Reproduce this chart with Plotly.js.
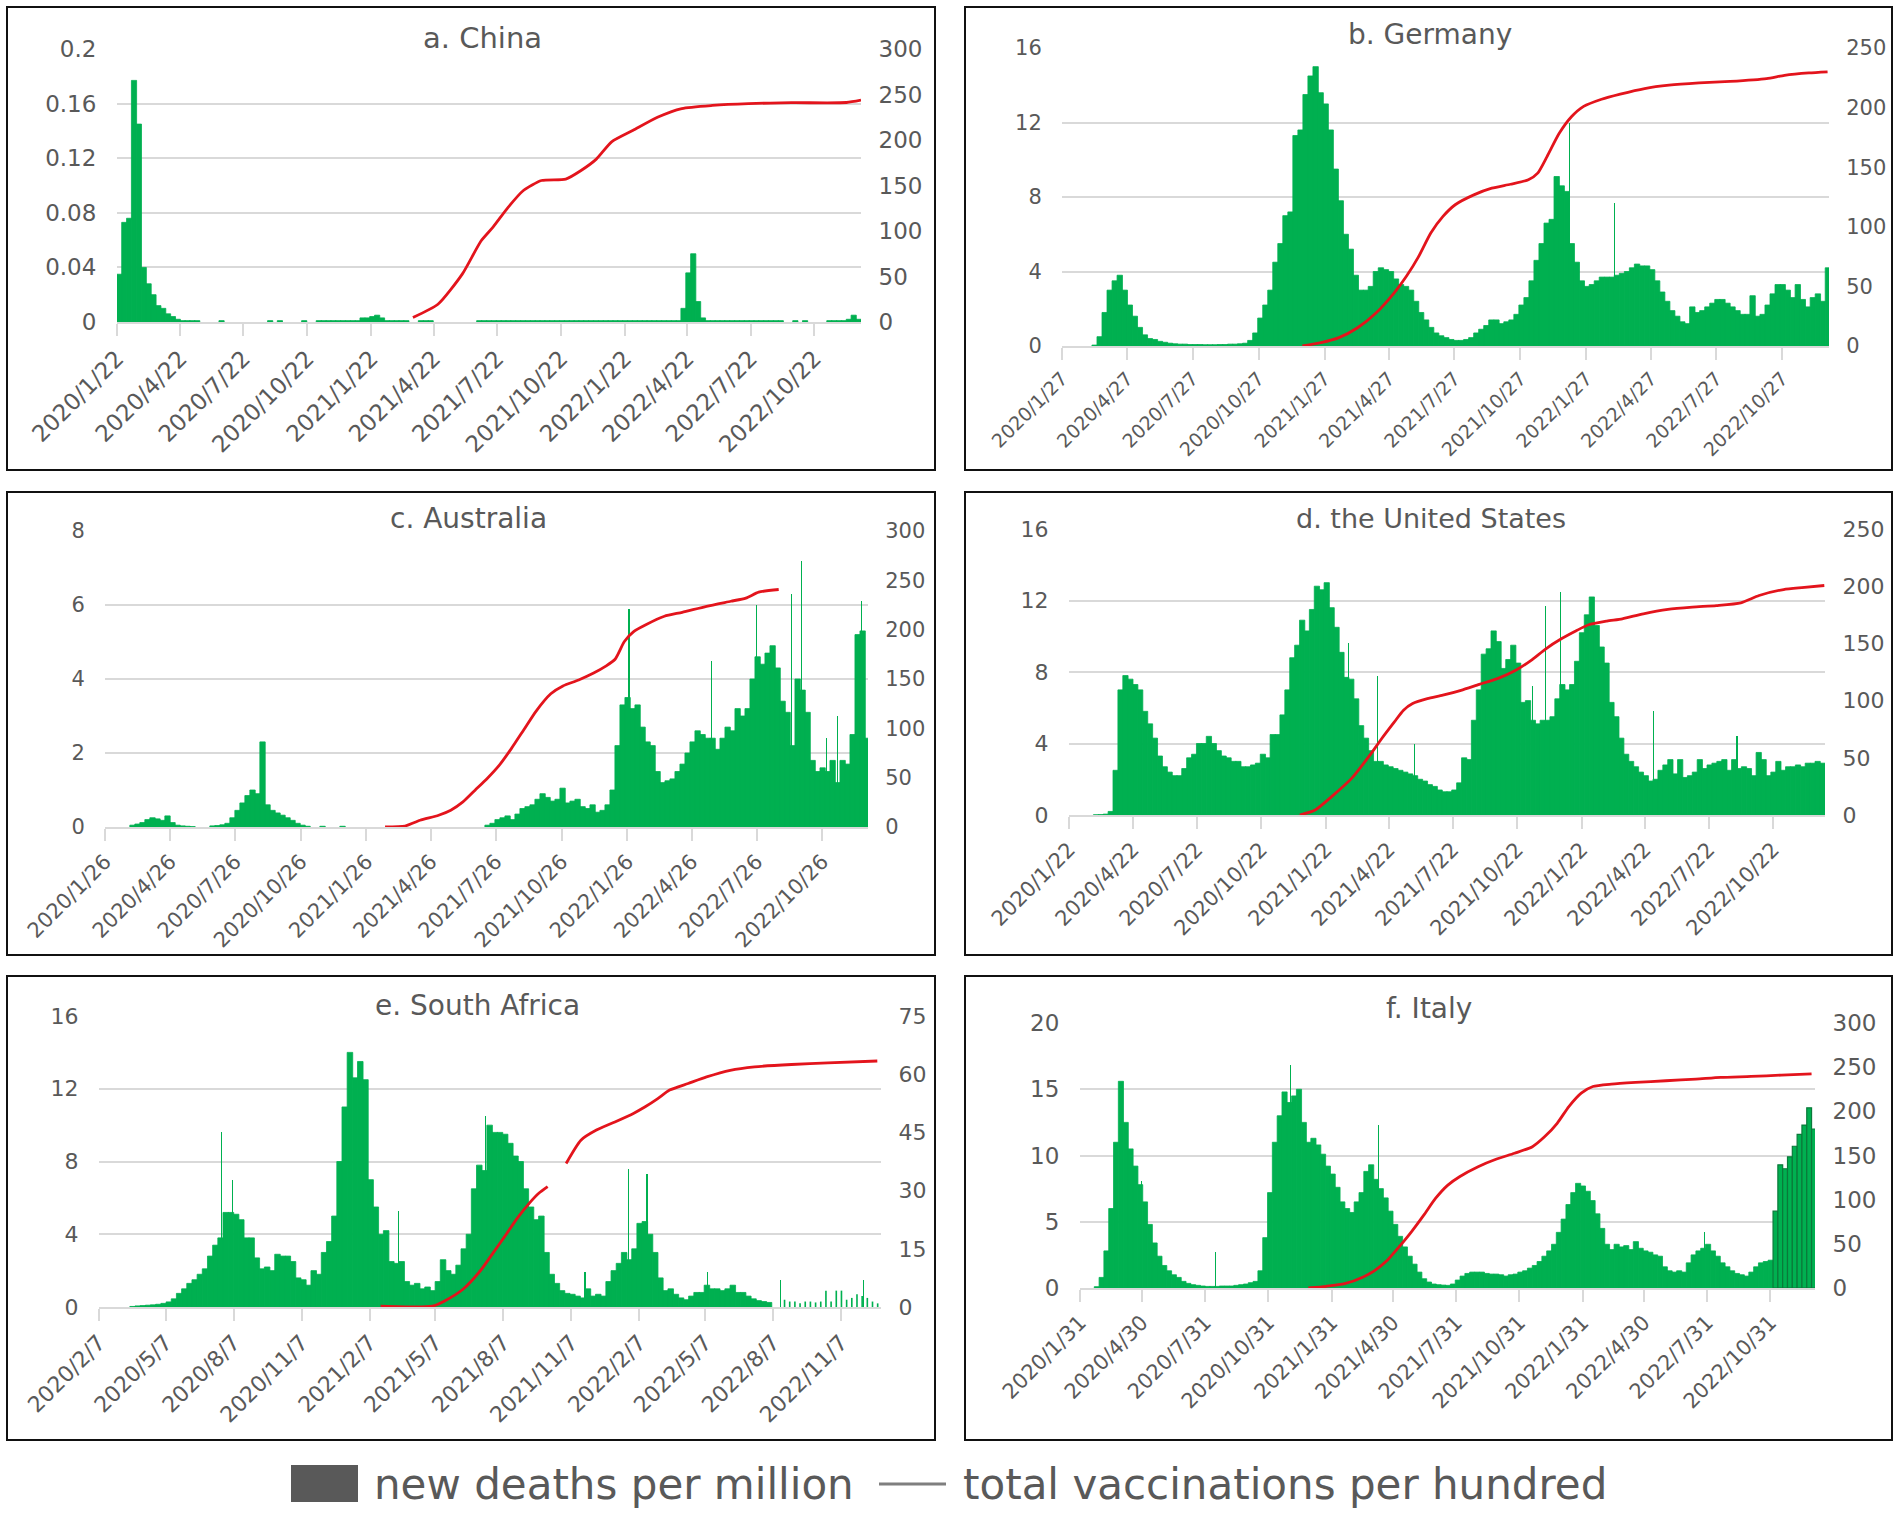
<!DOCTYPE html>
<html>
<head>
<meta charset="utf-8">
<script src="https://cdn.plot.ly/plotly-3.0.1.min.js"></script>
<style>
html,body{margin:0;padding:0;background:#fff;}
#chart{width:1902px;height:1519px;}
</style>
</head>
<body>
<div id="chart"></div>
<script>
// ---------------- DATA ----------------
// weekly new deaths per million (one value per 7-day week, starting at the axis start date)
const chinaStart = '2020-01-22';
const chinaDeaths = [0.035,0.073,0.076,0.177,0.145,0.04,0.028,0.02,0.012,0.01,0.006,0.004,0.002,
 0.001,0.001,0.001,0.001,0,0,0,0,
 0.001,0,0,0,0,0,0,0,0,0,
 0.001,0,0.001,0,0,0,0,0.001,0,0,
 0.001,0.001,0.001,0.001,0.001,0.001,0.001,0.001,0.001,
 0.003,0.003,0.004,0.005,0.003,
 0.001,0.001,0.001,0.001,0.001,
 0,0,0.001,0.001,0.001,0,0,0,0,0,0,0,0,0,
 0.001,0.001,0.001,0.001,0.001,0.001,0.001,0.001,0.001,0.001,0.001,0.001,0.001,0.001,
 0.001,0.001,0.001,0.001,0.001,0.001,0.001,0.001,0.001,0.001,0.001,0.001,0.001,0.001,
 0.001,0.001,0.001,0.001,0.001,0.001,0.001,0.001,0.001,0.001,0.001,0.001,0.001,0.001,
 0.01,0.036,0.05,0.015,0.003,
 0.001,0.001,0.001,0.001,0.001,0.001,0.001,0.001,0.001,0.001,0.001,0.001,0.001,0.001,0.001,0.001,
 0,0,0.001,0,0.001,0,0,0,0,0.001,0.001,0.001,0.001,
 0.002,0.005,0.002];
const chinaSpikeDates = [];
const chinaSpikeVals = [];
const chinaVaxDates = ['2021-03-23','2021-04-28','2021-06-02','2021-06-29','2021-07-16','2021-08-07','2021-08-29','2021-09-24','2021-10-29','2021-11-20','2021-12-12','2022-01-03','2022-02-03','2022-03-10','2022-04-14','2022-05-28','2022-07-19','2022-09-19','2022-12-07','2022-12-28'];
const chinaVaxVals = [5,19.5,52.6,89,104,126,144.5,155.5,157,166.5,179,198,210.7,225,234.6,238,240,241,241.2,243.8];
const chinaTicks = ['2020/1/22','2020/4/22','2020/7/22','2020/10/22','2021/1/22','2021/4/22','2021/7/22','2021/10/22','2022/1/22','2022/4/22','2022/7/22','2022/10/22'];

const germanyStart = '2020-01-27';
const germanyDeaths = [0,0,0,0,0,0,
 0.05,0.5,1.8,3.0,3.5,3.8,3.0,2.2,1.6,1.0,0.6,0.4,0.35,0.25,0.2,0.15,
 0.12,0.1,0.1,0.08,0.08,0.08,0.07,0.07,0.07,0.08,0.08,0.1,0.1,0.12,
 0.15,0.3,
 0.7,1.5,2.2,3.0,4.5,5.5,7.0,7.2,11.3,11.6,
 13.5,14.5,15.0,13.6,13.0,11.6,9.5,7.8,6.0,5.2,
 3.8,3.0,3.0,3.2,4.0,4.2,4.1,4.0,3.6,3.3,
 3.2,3.0,2.4,1.8,1.4,1.0,0.7,0.55,0.45,0.35,
 0.3,0.3,0.35,0.45,0.7,0.9,1.1,1.4,1.4,1.2,
 1.3,1.4,1.7,2.2,2.6,3.5,4.6,5.5,6.6,6.8,
 9.1,8.6,8.3,5.5,4.5,3.5,3.2,3.3,3.5,3.7,
 3.7,3.7,3.8,3.9,4.0,4.2,4.4,4.3,4.3,4.1,
 3.5,2.9,2.4,1.9,1.6,1.3,1.2,2.1,1.8,1.9,
 2.1,2.3,2.5,2.5,2.3,2.1,1.9,1.7,1.7,2.7,
 1.6,1.7,2.2,2.8,3.3,3.3,3.0,2.6,3.3,2.5,
 2.1,2.6,2.8,2.4,4.2];
const germanySpikeDates = ['2022-01-03','2022-03-07'];
const germanySpikeVals = [12.0,7.7];
const germanyVaxDates = ['2020-12-27','2021-01-22','2021-02-16','2021-03-14','2021-04-09','2021-05-04','2021-05-21','2021-06-07','2021-06-24','2021-07-11','2021-07-28','2021-08-23','2021-09-17','2021-10-13','2021-11-07','2021-11-20','2021-12-03','2021-12-20','2022-01-06','2022-01-23','2022-02-17','2022-03-15','2022-04-18','2022-05-22','2022-07-03','2022-08-15','2022-10-05','2022-10-30','2022-12-03','2022-12-29'];
const germanyVaxVals = [0,2.8,7,15.3,27.9,44.6,58.5,75,94.8,108.7,118.5,126.8,132.4,135.7,139.4,145,158.9,178.4,192.3,201,207,211.3,216,218.8,220.7,222,224.4,227.1,229.1,230];
const germanyTicks = ['2020/1/27','2020/4/27','2020/7/27','2020/10/27','2021/1/27','2021/4/27','2021/7/27','2021/10/27','2022/1/27','2022/4/27','2022/7/27','2022/10/27'];

const australiaStart = '2020-01-26';
const australiaDeaths = [0,0,0,0,0,
 0.05,0.08,0.12,0.2,0.25,0.22,0.18,0.3,0.12,0.05,0.03,0.02,0.01,
 0,0,0,
 0.03,0.04,0.06,0.1,0.25,0.45,0.65,0.85,1.0,0.9,2.3,0.6,0.45,0.38,0.32,0.25,0.18,0.1,0.05,
 0.02,0,0,0.02,0,0,0,0.02,0,0, 0,0,0,0,0,0,0,0,0,0, 0,0,0,0,0,0,0,0,0,0, 0,0,0,0,0,0,
 0.05,0.1,0.2,0.25,0.3,0.2,0.35,0.5,0.55,0.6,
 0.75,0.9,0.8,0.7,0.75,1.05,0.65,0.7,0.75,0.55,
 0.5,0.6,0.4,0.45,0.6,1.0,2.2,3.3,3.5,3.2,
 3.3,2.7,2.3,2.2,1.5,1.2,1.25,1.3,1.5,1.7,
 2.0,2.3,2.6,2.5,2.4,2.4,2.1,2.4,2.7,2.6,
 3.2,3.0,3.2,4.0,4.6,4.4,4.7,4.9,4.3,3.4,
 3.1,2.2,4.0,3.7,3.1,1.8,1.5,1.6,1.5,1.8,
 1.2,1.8,1.7,2.5,5.2,5.3,2.4];
const australiaSpikeDates = ['2022-01-28','2022-05-24','2022-07-26','2022-09-13','2022-09-26','2022-11-01','2022-11-16','2022-12-19'];
const australiaSpikeVals = [5.9,4.5,6.0,6.3,7.2,2.4,3.0,6.1];
const australiaVaxDates = ['2021-02-21','2021-03-21','2021-04-11','2021-05-07','2021-05-24','2021-06-10','2021-06-27','2021-07-14','2021-07-31','2021-08-17','2021-09-03','2021-09-20','2021-10-11','2021-10-28','2021-11-19','2021-12-10','2021-12-27','2022-01-09','2022-01-22','2022-02-04','2022-02-21','2022-03-19','2022-04-13','2022-05-17','2022-06-20','2022-07-11','2022-07-29','2022-08-26'];
const australiaVaxVals = [0,1,6.8,11.9,17,25.4,37.3,49.2,62.7,79.7,98.3,117,135,143,149,156,163,170,188,198,205,213.6,217.6,223.7,228.8,232,238,240.7];
const australiaTicks = ['2020/1/26','2020/4/26','2020/7/26','2020/10/26','2021/1/26','2021/4/26','2021/7/26','2021/10/26','2022/1/26','2022/4/26','2022/7/26','2022/10/26'];

const usStart = '2020-01-22';
const usDeaths = [0,0,0,0,0,0.01,0.02,0.05,0.2,
 2.5,7.0,7.8,7.6,7.3,7.0,5.8,5.1,4.3,3.3,
 2.7,2.4,2.2,2.2,2.6,3.2,3.4,4.0,4.0,4.4,
 4.0,3.6,3.3,3.2,3.0,3.0,2.7,2.7,2.8,2.9,
 3.4,3.2,4.5,4.5,5.6,7.0,8.8,9.5,10.9,10.3,
 11.5,12.8,12.6,13.0,11.6,10.5,9.1,7.7,7.6,6.5,
 5.0,4.3,3.6,3.0,3.0,2.8,2.7,2.6,2.5,2.4,
 2.3,2.2,2.0,1.9,1.7,1.6,1.4,1.3,1.3,1.4,
 1.8,3.2,3.1,5.3,7.0,9.0,9.3,10.3,9.7,8.2,
 8.7,9.5,8.5,6.3,6.4,5.3,5.1,5.3,5.3,5.5,
 6.5,7.3,7.0,7.3,8.6,10.2,11.2,12.2,10.6,9.4,
 8.5,6.3,5.5,4.3,3.4,3.0,2.7,2.4,2.2,1.9,
 2.0,2.5,2.8,3.1,2.3,3.1,2.1,2.2,2.4,3.1,
 2.6,2.8,2.9,3.0,3.1,2.5,3.1,2.6,2.7,2.6,
 2.2,3.5,3.1,2.2,2.4,3.0,2.5,2.7,2.7,2.8,
 2.7,2.9,2.9,3.0,2.9];
const usSpikeDates = ['2021-02-23','2021-04-06','2021-05-28','2021-11-12','2021-12-01','2021-12-22','2022-05-04','2022-08-31'];
const usSpikeVals = [9.6,7.8,4.0,7.2,11.7,12.5,5.8,4.4];
const usVaxDates = ['2020-12-16','2021-01-07','2021-02-02','2021-02-28','2021-03-26','2021-04-12','2021-04-30','2021-05-13','2021-05-26','2021-06-16','2021-07-08','2021-08-03','2021-08-29','2021-09-24','2021-10-20','2021-11-11','2021-12-02','2021-12-24','2022-01-15','2022-02-01','2022-02-27','2022-03-21','2022-04-20','2022-05-25','2022-06-29','2022-08-02','2022-09-06','2022-10-02','2022-11-06','2022-12-02','2023-01-03'];
const usVaxVals = [0,4.4,17.4,32,52.3,66.9,81.4,91.6,97.4,101.7,104.7,109,114.2,119.2,126.5,135.2,145.3,154,161.3,166.3,169.5,171.5,175.9,179.7,181.7,183.1,185.5,191.9,197.1,198.8,200.6];
const usTicks = ['2020/1/22','2020/4/22','2020/7/22','2020/10/22','2021/1/22','2021/4/22','2021/7/22','2021/10/22','2022/1/22','2022/4/22','2022/7/22','2022/10/22'];

const saStart = '2020-02-07';
const saDeaths = [0,0,0,0,0,0,
 0.03,0.06,0.08,0.1,0.12,0.15,0.2,0.28,0.45,0.75,
 1.0,1.3,1.5,1.8,2.1,2.8,3.4,3.8,5.2,5.2,
 5.1,4.8,3.8,3.8,2.7,2.1,2.2,2.0,2.9,2.8,
 2.8,2.5,1.6,1.5,1.2,2.0,1.8,3.0,3.6,5.0,
 8.0,11.0,14.0,12.6,13.5,12.5,7.0,5.5,4.0,4.2,
 2.5,2.4,2.5,1.4,1.2,1.3,1.0,1.1,0.9,1.4,
 2.6,2.0,1.8,2.3,3.2,4.0,6.5,7.8,7.5,10.0,
 9.6,9.6,9.5,9.0,8.3,8.0,6.5,5.5,4.8,5.0,
 3.0,1.8,1.3,0.9,0.75,0.7,0.6,0.5,1.0,0.6,
 0.7,0.6,1.4,2.0,2.4,3.0,2.6,3.2,4.6,4.7,
 4.0,3.0,1.6,0.9,1.0,0.7,0.5,0.4,0.6,0.8,
 0.8,1.2,1.0,1.0,0.9,1.0,1.2,0.8,0.8,0.6,
 0.45,0.35,0.3,0.25,0,0,0.4,0.3,0.3,0.2,
 0.3,0.3,0.25,0.3,0.9,0.3,0.9,0.9,0.4,0.5,
 0.7,0.6,0.5,0.3,0.2,0.1];
const saSpikeDates = ['2020-07-21','2020-08-05','2021-03-18','2021-07-13','2021-11-25','2022-01-23','2022-02-17','2022-05-10','2022-08-17','2022-12-07'];
const saSpikeVals = [9.6,7.0,5.3,10.5,1.9,7.6,7.3,1.9,1.5,1.5];
const saVaxDates = ['2021-02-22','2021-04-08','2021-05-03','2021-05-19','2021-06-13','2021-07-08','2021-07-24','2021-08-09','2021-08-26','2021-09-11','2021-09-24','2021-10-06','2021-10-18','2021-10-31','2021-11-20','2021-12-11','2022-01-05','2022-01-30','2022-02-15','2022-03-04','2022-03-20','2022-04-14','2022-05-09','2022-06-10','2022-07-13','2022-09-01','2022-10-20','2022-12-26'];
const saVaxVals = [0.2,0,0.2,1.5,4.5,9.6,13.9,18.2,22.9,26.7,29.3,31,null,37,43,45.6,47.7,49.9,51.6,53.7,55.9,57.6,59.3,61,61.9,62.5,62.9,63.4];
const saTicks = ['2020/2/7','2020/5/7','2020/8/7','2020/11/7','2021/2/7','2021/5/7','2021/8/7','2021/11/7','2022/2/7','2022/5/7','2022/8/7','2022/11/7'];

const italyStart = '2020-01-31';
const italyDeaths = [0,0,0,0.1,0.8,2.8,6.0,11.0,15.6,12.5,
 10.5,9.2,7.8,6.5,4.8,3.4,2.4,1.7,1.3,1.0,
 0.8,0.5,0.35,0.25,0.2,0.15,0.12,0.12,0.12,0.15,
 0.15,0.15,0.2,0.25,0.3,0.4,0.5,1.3,3.8,7.2,
 11.0,13.0,14.8,14.0,14.5,15.0,12.5,11.0,11.3,10.8,
 10.1,9.2,8.6,7.6,6.5,6.0,5.7,6.5,7.2,8.8,
 9.3,8.2,7.5,6.8,5.8,4.8,3.9,3.1,2.4,1.8,
 1.2,0.7,0.45,0.3,0.25,0.22,0.2,0.3,0.6,0.9,
 1.1,1.2,1.2,1.2,1.1,1.05,1.05,1.0,0.9,1.0,
 1.05,1.2,1.3,1.5,1.7,2.0,2.4,2.8,3.3,4.2,
 5.2,6.3,7.2,7.9,7.7,7.3,6.6,5.6,4.5,3.3,
 2.9,3.3,3.1,3.2,2.9,3.5,3.0,2.8,2.7,2.5,
 2.4,1.6,1.3,1.2,1.3,1.2,1.9,2.5,2.8,3.0,
 3.3,2.8,2.4,1.9,1.6,1.3,1.1,1.0,0.9,1.2,
 1.6,1.9,2.0,2.1,
 5.8,9.3,9.0,9.9,10.7,11.6,12.3,13.6,12.0];
const italySpikeDates = ['2020-04-29','2020-08-14','2020-12-02','2021-04-08','2022-07-27'];
const italySpikeVals = [8.1,2.7,16.8,12.3,4.2];
const italyVaxDates = ['2020-12-28','2021-01-23','2021-02-19','2021-03-18','2021-04-04','2021-04-22','2021-05-09','2021-05-27','2021-06-14','2021-07-01','2021-07-19','2021-08-05','2021-09-01','2021-09-27','2021-10-24','2021-11-19','2021-12-07','2021-12-25','2022-01-11','2022-01-29','2022-02-15','2022-03-14','2022-04-18','2022-06-01','2022-07-15','2022-08-20','2022-10-03','2022-11-16','2022-12-30'];
const italyVaxVals = [0,1.9,4.9,12.5,20,31.4,46.5,63.6,82.5,101.4,116.5,126,137.3,145.7,152.5,160,171.4,186.5,205.4,220.6,228.1,230.8,232.7,234.6,236.5,238.4,239.5,241,242.5];
const italyTicks = ['2020/1/31','2020/4/30','2020/7/31','2020/10/31','2021/1/31','2021/4/30','2021/7/31','2021/10/31','2022/1/31','2022/4/30','2022/7/31','2022/10/31'];

const panelTitles = ['a. China','b. Germany','c. Australia','d. the United States','e. South Africa','f. Italy'];
const legendLabels = ['new deaths per million','total vaccinations per hundred'];

// ---------------- LAYOUT / STYLE ----------------
const W = 1902, H = 1519, DAY = 86400000;
const GREEN = '#00b050', RED = '#e3141c', GRID = '#d9d9d9', TXT = '#595959';
const FONT = 'DejaVu Sans, Noto Sans, sans-serif';

const panels = [
  {start: chinaStart, deaths: chinaDeaths, sd: chinaSpikeDates, sv: chinaSpikeVals, vd: chinaVaxDates, vv: chinaVaxVals, ticks: chinaTicks,
   end: '2022-12-28', lmax: 0.2, ldt: 0.04, rmax: 300, rdt: 50, area: [117, 861, 49, 322], box: [7, 7, 935, 470], title: [483, 38],
   xfs: 23, yfs: 23, tfs: 29},
  {start: germanyStart, deaths: germanyDeaths, sd: germanySpikeDates, sv: germanySpikeVals, vd: germanyVaxDates, vv: germanyVaxVals, ticks: germanyTicks,
   end: '2022-12-31', lmax: 16, ldt: 4, rmax: 250, rdt: 50, area: [1062, 1829, 48, 346], box: [965, 7, 1892, 470], title: [1430, 34],
   xfs: 19, yfs: 21, tfs: 28},
  {start: australiaStart, deaths: australiaDeaths, sd: australiaSpikeDates, sv: australiaSpikeVals, vd: australiaVaxDates, vv: australiaVaxVals, ticks: australiaTicks,
   end: '2022-12-29', lmax: 8, ldt: 2, rmax: 300, rdt: 50, area: [105, 868, 531, 827], box: [7, 492, 935, 955], title: [468, 518],
   xfs: 21, yfs: 21, tfs: 28},
  {start: usStart, deaths: usDeaths, sd: usSpikeDates, sv: usSpikeVals, vd: usVaxDates, vv: usVaxVals, ticks: usTicks,
   end: '2023-01-04', lmax: 16, ldt: 4, rmax: 250, rdt: 50, area: [1069, 1825, 529, 815], box: [965, 492, 1892, 955], title: [1431, 518],
   xfs: 21, yfs: 22, tfs: 27},
  {start: saStart, deaths: saDeaths, sd: saSpikeDates, sv: saSpikeVals, vd: saVaxDates, vv: saVaxVals, ticks: saTicks,
   end: '2022-12-31', lmax: 16, ldt: 4, rmax: 75, rdt: 15, area: [99, 881, 1016, 1307], box: [7, 976, 935, 1440], title: [477, 1005],
   xfs: 22, yfs: 22, tfs: 28, thinFrom: 132},
  {start: italyStart, deaths: italyDeaths, sd: italySpikeDates, sv: italySpikeVals, vd: italyVaxDates, vv: italyVaxVals, ticks: italyTicks,
   end: '2023-01-04', lmax: 20, ldt: 5, rmax: 300, rdt: 50, area: [1080, 1815, 1023, 1288], box: [965, 976, 1892, 1440], title: [1429, 1008],
   xfs: 21, yfs: 23, tfs: 28, outlineFrom: 144}
];

function fmt(ms) { return new Date(ms).toISOString().slice(0, 19).replace('T', ' '); }
function weekCenters(start, n) {
  const t0 = Date.parse(start + 'T00:00:00Z');
  const out = [];
  for (let i = 0; i < n; i++) out.push(fmt(t0 + (7 * i + 3.5) * DAY));
  return out;
}
function slashToIso(s) {
  const p = s.split('/').map(Number);
  return p[0] + '-' + String(p[1]).padStart(2, '0') + '-' + String(p[2]).padStart(2, '0');
}
const fx = px => px / W;
const fy = px => 1 - px / H;

const data = [];
const layout = {
  width: W, height: H,
  margin: {l: 0, r: 0, t: 0, b: 0},
  paper_bgcolor: '#ffffff', plot_bgcolor: 'rgba(0,0,0,0)',
  showlegend: false, barmode: 'overlay', bargap: 0,
  font: {family: FONT, color: TXT, size: 23},
  shapes: [], annotations: []
};

panels.forEach((P, k) => {
  const p = k + 1;
  const xid = p === 1 ? 'x' : 'x' + p;
  const yl = (2 * p - 1) === 1 ? 'y' : 'y' + (2 * p - 1);
  const yr = 'y' + (2 * p);
  const n = P.deaths.length;
  const thin = i => P.thinFrom !== undefined && i >= P.thinFrom;
  const outl = i => P.outlineFrom !== undefined && i >= P.outlineFrom;
  const widths = P.deaths.map((v, i) => thin(i) ? 2.2 * DAY : (outl(i) ? 7 * DAY : 7.5 * DAY));
  const lineW = P.deaths.map((v, i) => (v === 0 || thin(i)) ? 0 : (outl(i) ? 1.2 : 0.8));
  const lineC = P.deaths.map((v, i) => outl(i) ? '#0a7a3a' : GREEN);
  data.push({
    type: 'bar', x: weekCenters(P.start, n), y: P.deaths, width: widths,
    xaxis: xid, yaxis: yl, name: legendLabels[0],
    marker: {color: GREEN, line: {color: lineC, width: lineW}}, hoverinfo: 'skip'
  });
  if (P.sd.length) {
    data.push({
      type: 'bar', x: P.sd.map(d => d + ' 12:00:00'), y: P.sv, width: 1.6 * DAY,
      xaxis: xid, yaxis: yl, name: legendLabels[0],
      marker: {color: GREEN, line: {width: 0}}, hoverinfo: 'skip'
    });
  }
  data.push({
    type: 'scatter', mode: 'lines', x: P.vd, y: P.vv, xaxis: xid, yaxis: yr,
    name: legendLabels[1], connectgaps: false,
    line: {color: RED, width: 2.8, shape: 'spline', smoothing: 0.6}, hoverinfo: 'skip'
  });

  const [x0, x1, y0, y1] = P.area;
  layout[xid.replace('x', 'xaxis')] = {
    domain: [fx(x0), fx(x1)], anchor: yl, type: 'date',
    range: [P.start, P.end],
    tickmode: 'array', tickvals: P.ticks.map(slashToIso), ticktext: P.ticks,
    tickangle: -45, ticks: 'outside', ticklen: 12, tickwidth: 2, tickcolor: GRID,
    showline: true, linecolor: GRID, linewidth: 2, showgrid: false, zeroline: false,
    tickfont: {family: FONT, size: P.xfs, color: TXT}, fixedrange: true
  };
  layout[yl.replace('y', 'yaxis')] = {
    domain: [fy(y1), fy(y0)], anchor: xid, range: [0, P.lmax], dtick: P.ldt, tick0: 0,
    showgrid: true, gridcolor: GRID, gridwidth: 2, zeroline: false, showline: false,
    ticks: 'outside', ticklen: 15, tickcolor: 'rgba(0,0,0,0)',
    tickfont: {family: FONT, size: P.yfs, color: TXT}, fixedrange: true
  };
  layout[yr.replace('y', 'yaxis')] = {
    overlaying: yl, side: 'right', anchor: xid, range: [0, P.rmax], dtick: P.rdt, tick0: 0,
    showgrid: false, zeroline: false, showline: false,
    ticks: 'outside', ticklen: 12, tickcolor: 'rgba(0,0,0,0)',
    tickfont: {family: FONT, size: P.yfs, color: TXT}, fixedrange: true
  };

  const [bx0, by0, bx1, by1] = P.box;
  layout.shapes.push({type: 'rect', xref: 'paper', yref: 'paper',
    x0: fx(bx0), x1: fx(bx1), y0: fy(by1), y1: fy(by0),
    line: {color: '#111111', width: 2}, fillcolor: 'rgba(0,0,0,0)'});
  layout.annotations.push({xref: 'paper', yref: 'paper', x: fx(P.title[0]), y: fy(P.title[1]),
    xanchor: 'center', yanchor: 'middle', showarrow: false, text: panelTitles[k],
    font: {family: FONT, size: P.tfs, color: TXT}});
});

// legend (drawn as shapes + text)
layout.shapes.push({type: 'rect', xref: 'paper', yref: 'paper', x0: fx(291), x1: fx(358), y0: fy(1502), y1: fy(1465),
  line: {width: 0}, fillcolor: '#595959'});
layout.shapes.push({type: 'line', xref: 'paper', yref: 'paper', x0: fx(879), x1: fx(946), y0: fy(1484), y1: fy(1484),
  line: {color: '#7f7f7f', width: 3}});
layout.annotations.push({xref: 'paper', yref: 'paper', x: fx(372), y: fy(1484), xanchor: 'left', yanchor: 'middle',
  showarrow: false, text: legendLabels[0], font: {family: FONT, size: 42, color: TXT}});
layout.annotations.push({xref: 'paper', yref: 'paper', x: fx(961), y: fy(1484), xanchor: 'left', yanchor: 'middle',
  showarrow: false, text: legendLabels[1], font: {family: FONT, size: 42, color: TXT}});

Plotly.newPlot('chart', data, layout, {displayModeBar: false, staticPlot: true});
</script>
</body>
</html>
